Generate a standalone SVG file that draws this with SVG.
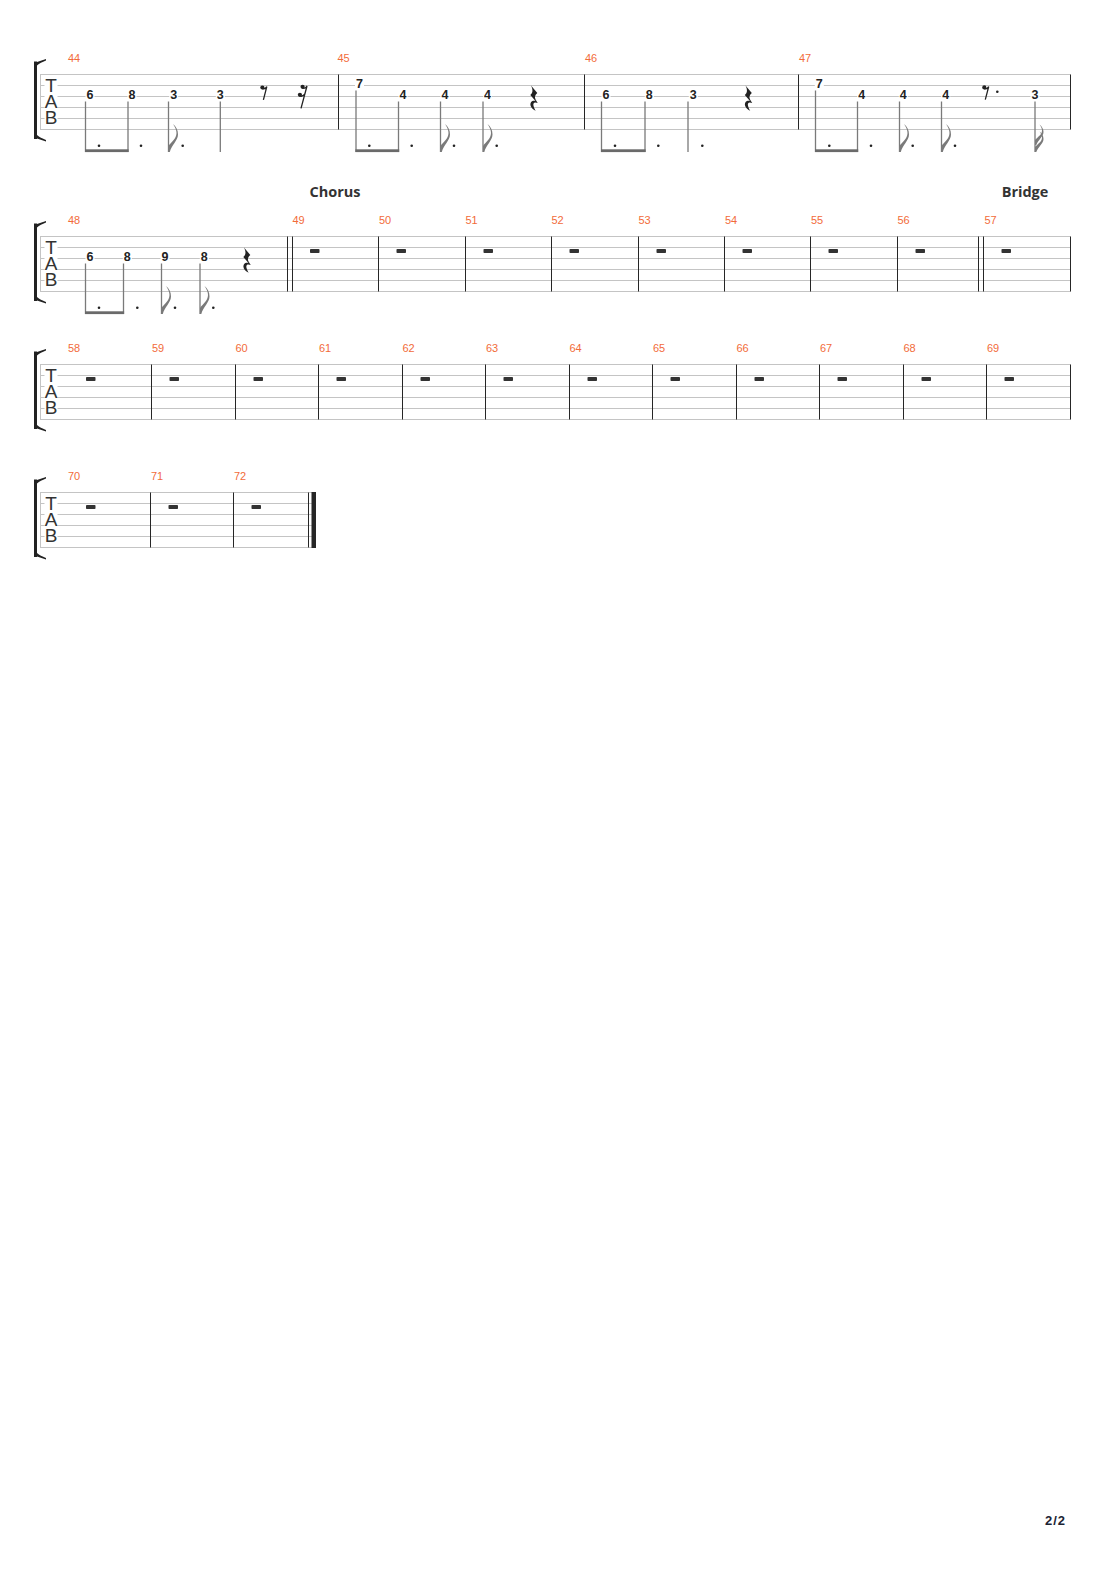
<svg xmlns="http://www.w3.org/2000/svg" xmlns:xlink="http://www.w3.org/1999/xlink" width="1110" height="1570" viewBox="0 0 1110 1570">
<style>
.staff{stroke:#c4c4c4;stroke-width:1;fill:none}
.bar{stroke:#262626;stroke-width:1;fill:none}
.stem{stroke:#7a7a7a;stroke-width:1.3;fill:none}
.beam{fill:#6a6a6a}
.flag{fill:#7a7a7a}
.dot{fill:#222}
.mn{font-family:"Liberation Sans",Arial,sans-serif;font-size:11px;fill:#f26b3a}
.fret{font-family:"Liberation Sans",Arial,sans-serif;font-size:12.5px;font-weight:bold;fill:#222;text-anchor:middle}
.clef{font-family:"Liberation Sans",Arial,sans-serif;font-size:19px;fill:#333;text-anchor:middle}
.sec{font-family:"Open Sans","Liberation Sans",sans-serif;font-size:14.5px;font-weight:bold;fill:#333;text-anchor:middle}
.wrest{fill:#333}
.bg{fill:#fff}
.rest{fill:#222}
.reststroke{stroke:#222;stroke-width:1.3;fill:none}
</style>
<defs>
<g id="bracket">
<rect x="34" y="-13" width="3" height="77.5" fill="#222"/>
<path d="M34,-11.5 C38,-13 42,-14.2 46,-15.5 L46,-14 C42,-12.5 39.5,-11 37,-9 Z" fill="#222"/>
<path d="M34,63 C38,64.5 42,65.7 46,67 L46,65.5 C42,64 39.5,62.5 37,60.5 Z" fill="#222"/>
<path d="M40.5,0 V55" class="staff"/>
<rect x="44.5" y="2.5" width="13" height="50" fill="#fff"/>
<text class="clef" x="51" y="17.5">T</text>
<text class="clef" x="51" y="33">A</text>
<text class="clef" x="51" y="49">B</text>
</g>
<path id="f8" class="flag" d="M0,0 V-6 C2.5,-10 8,-13 8,-19 C8,-22 6.5,-25 4.5,-28 C7.5,-25.5 9.5,-22 9.5,-17.5 C9.5,-11.5 3,-7 1.3,0 Z"/>
<g id="f16" class="flag">
<path d="M0,0 V-5 C2.5,-8 7,-10 7,-14.5 C7,-16.5 6,-18.5 4.5,-20.5 C7,-18.5 8.5,-16 8.5,-13 C8.5,-8.5 3,-5 1.3,0 Z"/>
<path transform="translate(0,-7)" d="M0,0 V-5 C2.5,-8 7,-10 7,-14.5 C7,-16.5 6,-18.5 4.5,-20.5 C7,-18.5 8.5,-16 8.5,-13 C8.5,-8.5 3,-5 1.3,0 Z"/>
</g>
<g id="r8">
<circle class="rest" r="2.1"/>
<path class="reststroke" d="M0,1.2 Q2.6,2.2 4.4,-0.8 L1,12.3"/>
</g>
<g id="r16">
<circle class="rest" r="2.1"/>
<circle class="rest" cx="-2.7" cy="8" r="2.1"/>
<path class="reststroke" d="M0,1.2 Q2.6,2.2 4.4,-0.8 L-1.6,21.5 M-2.7,9.2 Q-0.1,10.2 2.1,7.4"/>
</g>
<path id="r4" class="rest" d="M1.5,0 L7.8,7.5 C5.6,9.6 4.6,11.6 6.2,14.2 L8.2,17.6 C5.6,16.2 2.8,16.8 4.2,21 C4.7,23 5.6,24.2 6.2,25.2 C2,23.6 -0.4,19.6 1.6,16.6 C2.7,15.1 4.6,15 6,15.5 L0.8,9.6 C3,7.5 4,5 1.5,0 Z"/>
</defs>

<g id="system1">
<path class="staff" d="M40,74.5H1070.5 M40,85.5H1070.5 M40,96.5H1070.5 M40,107.5H1070.5 M40,118.5H1070.5 M40,129.5H1070.5"/>
<use href="#bracket" transform="translate(0,74.5)"/>
<path class="bar" d="M338.5,74.5V129.5 M584.5,74.5V129.5 M798.5,74.5V129.5 M1070.5,74.5V129.5"/>
<text class="mn" x="68" y="62">44</text>
<text class="mn" x="337.5" y="62">45</text>
<text class="mn" x="585" y="62">46</text>
<text class="mn" x="799" y="62">47</text>
<g id="frets1">
<rect class="bg" x="85.5" y="89" width="9" height="10.5"/><text class="fret" x="90" y="98.8">6</text>
<rect class="bg" x="127.5" y="89" width="9" height="10.5"/><text class="fret" x="132" y="98.8">8</text>
<rect class="bg" x="169.2" y="89" width="9" height="10.5"/><text class="fret" x="173.7" y="98.8">3</text>
<rect class="bg" x="215.8" y="89" width="9" height="10.5"/><text class="fret" x="220.3" y="98.8">3</text>
<rect class="bg" x="355" y="78" width="9" height="10.5"/><text class="fret" x="359.5" y="87.8">7</text>
<rect class="bg" x="398.5" y="89" width="9" height="10.5"/><text class="fret" x="403" y="98.8">4</text>
<rect class="bg" x="440.5" y="89" width="9" height="10.5"/><text class="fret" x="445" y="98.8">4</text>
<rect class="bg" x="483" y="89" width="9" height="10.5"/><text class="fret" x="487.5" y="98.8">4</text>
<rect class="bg" x="601.5" y="89" width="9" height="10.5"/><text class="fret" x="606" y="98.8">6</text>
<rect class="bg" x="644.8" y="89" width="9" height="10.5"/><text class="fret" x="649.3" y="98.8">8</text>
<rect class="bg" x="688.8" y="89" width="9" height="10.5"/><text class="fret" x="693.3" y="98.8">3</text>
<rect class="bg" x="814.8" y="78" width="9" height="10.5"/><text class="fret" x="819.3" y="87.8">7</text>
<rect class="bg" x="857.2" y="89" width="9" height="10.5"/><text class="fret" x="861.7" y="98.8">4</text>
<rect class="bg" x="898.8" y="89" width="9" height="10.5"/><text class="fret" x="903.3" y="98.8">4</text>
<rect class="bg" x="941.2" y="89" width="9" height="10.5"/><text class="fret" x="945.7" y="98.8">4</text>
<rect class="bg" x="1030.5" y="89" width="9" height="10.5"/><text class="fret" x="1035" y="98.8">3</text>
</g>
<path class="stem" d="M85.5,101.5V152 M128,101.5V152 M168.5,101.5V152 M220.3,101.5V152 M356,90.5V152 M398.5,101.5V152 M440.5,101.5V152 M483,101.5V152 M601.5,101.5V152 M645,101.5V152 M688,101.5V152 M815.5,90.5V152 M857.5,101.5V152 M899.5,101.5V152 M941.5,101.5V152 M1035,101.5V152"/>
<rect class="beam" x="85" y="149.3" width="43.6" height="2.8"/>
<rect class="beam" x="355.4" y="149.3" width="43.8" height="2.8"/>
<rect class="beam" x="601" y="149.3" width="44.6" height="2.8"/>
<rect class="beam" x="815" y="149.3" width="43.2" height="2.8"/>
<use href="#f8" x="168.5" y="152"/>
<use href="#f8" x="440.5" y="152"/>
<use href="#f8" x="483" y="152"/>
<use href="#f8" x="899.5" y="152"/>
<use href="#f8" x="941.5" y="152"/>
<use href="#f16" x="1035" y="152"/>
<g class="dot">
<circle cx="99" cy="145.8" r="1.3"/><circle cx="141" cy="145.8" r="1.3"/><circle cx="182.7" cy="145.8" r="1.3"/>
<circle cx="369.3" cy="145.8" r="1.3"/><circle cx="411.7" cy="145.8" r="1.3"/><circle cx="454" cy="145.8" r="1.3"/><circle cx="496.7" cy="145.8" r="1.3"/>
<circle cx="615" cy="145.8" r="1.3"/><circle cx="658.3" cy="145.8" r="1.3"/><circle cx="702.3" cy="145.8" r="1.3"/>
<circle cx="829.3" cy="145.8" r="1.3"/><circle cx="871" cy="145.8" r="1.3"/><circle cx="912.7" cy="145.8" r="1.3"/><circle cx="955" cy="145.8" r="1.3"/>
<circle cx="997.3" cy="91.7" r="1.3"/>
</g>
<use href="#r8" x="262.4" y="87.5"/>
<use href="#r16" x="302.6" y="86.8"/>
<use href="#r4" x="529.5" y="85.5"/>
<use href="#r4" x="744" y="85.5"/>
<use href="#r8" x="984.3" y="87.4"/>
</g>

<g id="system2">
<text class="sec" x="335" y="196.5">Chorus</text>
<text class="sec" x="1025" y="196.5">Bridge</text>
<path class="staff" d="M40,236.5H1070.5 M40,247.5H1070.5 M40,258.5H1070.5 M40,269.5H1070.5 M40,280.5H1070.5 M40,291.5H1070.5"/>
<use href="#bracket" transform="translate(0,236.5)"/>
<path class="bar" d="M287.5,236.5V291.5 M292.5,236.5V291.5 M378.5,236.5V291.5 M465.5,236.5V291.5 M551.5,236.5V291.5 M638.5,236.5V291.5 M724.5,236.5V291.5 M810.5,236.5V291.5 M897.5,236.5V291.5 M978.5,236.5V291.5 M983.5,236.5V291.5 M1070.5,236.5V291.5"/>
<text class="mn" x="68" y="224">48</text>
<text class="mn" x="292.5" y="224">49</text>
<text class="mn" x="379" y="224">50</text>
<text class="mn" x="465.5" y="224">51</text>
<text class="mn" x="551.5" y="224">52</text>
<text class="mn" x="638.5" y="224">53</text>
<text class="mn" x="725" y="224">54</text>
<text class="mn" x="811" y="224">55</text>
<text class="mn" x="897.5" y="224">56</text>
<text class="mn" x="984.5" y="224">57</text>
<rect class="bg" x="85.5" y="251" width="9" height="10.5"/><text class="fret" x="90" y="260.8">6</text>
<rect class="bg" x="122.8" y="251" width="9" height="10.5"/><text class="fret" x="127.3" y="260.8">8</text>
<rect class="bg" x="160.5" y="251" width="9" height="10.5"/><text class="fret" x="165" y="260.8">9</text>
<rect class="bg" x="199.8" y="251" width="9" height="10.5"/><text class="fret" x="204.3" y="260.8">8</text>
<path class="stem" d="M85.5,263.5V314 M123.5,263.5V314 M161.5,263.5V314 M200,263.5V314"/>
<rect class="beam" x="85" y="311.3" width="39.1" height="2.8"/>
<use href="#f8" x="161.5" y="314"/>
<use href="#f8" x="200" y="314"/>
<g class="dot">
<circle cx="99" cy="307.8" r="1.3"/><circle cx="137.3" cy="307.8" r="1.3"/><circle cx="175" cy="307.8" r="1.3"/><circle cx="213.3" cy="307.8" r="1.3"/>
</g>
<use href="#r4" x="242.5" y="247.5"/>
<g class="wrest">
<rect x="310" y="249" width="9.5" height="4" rx="0.8"/>
<rect x="396.5" y="249" width="9.5" height="4" rx="0.8"/>
<rect x="483.5" y="249" width="9.5" height="4" rx="0.8"/>
<rect x="569.5" y="249" width="9.5" height="4" rx="0.8"/>
<rect x="656.5" y="249" width="9.5" height="4" rx="0.8"/>
<rect x="742.5" y="249" width="9.5" height="4" rx="0.8"/>
<rect x="828.5" y="249" width="9.5" height="4" rx="0.8"/>
<rect x="915.5" y="249" width="9.5" height="4" rx="0.8"/>
<rect x="1001.5" y="249" width="9.5" height="4" rx="0.8"/>
</g>
</g>

<g id="system3">
<path class="staff" d="M40,364.5H1070.5 M40,375.5H1070.5 M40,386.5H1070.5 M40,397.5H1070.5 M40,408.5H1070.5 M40,419.5H1070.5"/>
<use href="#bracket" transform="translate(0,364.5)"/>
<path class="bar" d="M151.5,364.5V419.5 M235.5,364.5V419.5 M318.5,364.5V419.5 M402.5,364.5V419.5 M485.5,364.5V419.5 M569.5,364.5V419.5 M652.5,364.5V419.5 M736.5,364.5V419.5 M819.5,364.5V419.5 M903.5,364.5V419.5 M986.5,364.5V419.5 M1070.5,364.5V419.5"/>
<text class="mn" x="68" y="352">58</text>
<text class="mn" x="152" y="352">59</text>
<text class="mn" x="235.5" y="352">60</text>
<text class="mn" x="319" y="352">61</text>
<text class="mn" x="402.5" y="352">62</text>
<text class="mn" x="486" y="352">63</text>
<text class="mn" x="569.5" y="352">64</text>
<text class="mn" x="653" y="352">65</text>
<text class="mn" x="736.5" y="352">66</text>
<text class="mn" x="820" y="352">67</text>
<text class="mn" x="903.5" y="352">68</text>
<text class="mn" x="987" y="352">69</text>
<g class="wrest">
<rect x="86" y="377" width="9.5" height="4" rx="0.8"/>
<rect x="169.5" y="377" width="9.5" height="4" rx="0.8"/>
<rect x="253.5" y="377" width="9.5" height="4" rx="0.8"/>
<rect x="336.5" y="377" width="9.5" height="4" rx="0.8"/>
<rect x="420.5" y="377" width="9.5" height="4" rx="0.8"/>
<rect x="503.5" y="377" width="9.5" height="4" rx="0.8"/>
<rect x="587.5" y="377" width="9.5" height="4" rx="0.8"/>
<rect x="670.5" y="377" width="9.5" height="4" rx="0.8"/>
<rect x="754.5" y="377" width="9.5" height="4" rx="0.8"/>
<rect x="837.5" y="377" width="9.5" height="4" rx="0.8"/>
<rect x="921.5" y="377" width="9.5" height="4" rx="0.8"/>
<rect x="1004.5" y="377" width="9.5" height="4" rx="0.8"/>
</g>
</g>

<g id="system4">
<path class="staff" d="M40,492.5H316 M40,503.5H316 M40,514.5H316 M40,525.5H316 M40,536.5H316 M40,547.5H316"/>
<use href="#bracket" transform="translate(0,492.5)"/>
<path class="bar" d="M150.5,492.5V547.5 M233.5,492.5V547.5 M308.5,492.5V547.5"/>
<rect x="311.5" y="492" width="4.5" height="56" fill="#262626"/>
<text class="mn" x="68" y="480">70</text>
<text class="mn" x="151" y="480">71</text>
<text class="mn" x="234" y="480">72</text>
<g class="wrest">
<rect x="86" y="505" width="9.5" height="4" rx="0.8"/>
<rect x="168.5" y="505" width="9.5" height="4" rx="0.8"/>
<rect x="251.5" y="505" width="9.5" height="4" rx="0.8"/>
</g>
</g>

<text x="1045" y="1525" font-family="Liberation Sans, Arial, sans-serif" font-size="13" font-weight="bold" letter-spacing="1" fill="#1c2333">2/2</text>
</svg>
